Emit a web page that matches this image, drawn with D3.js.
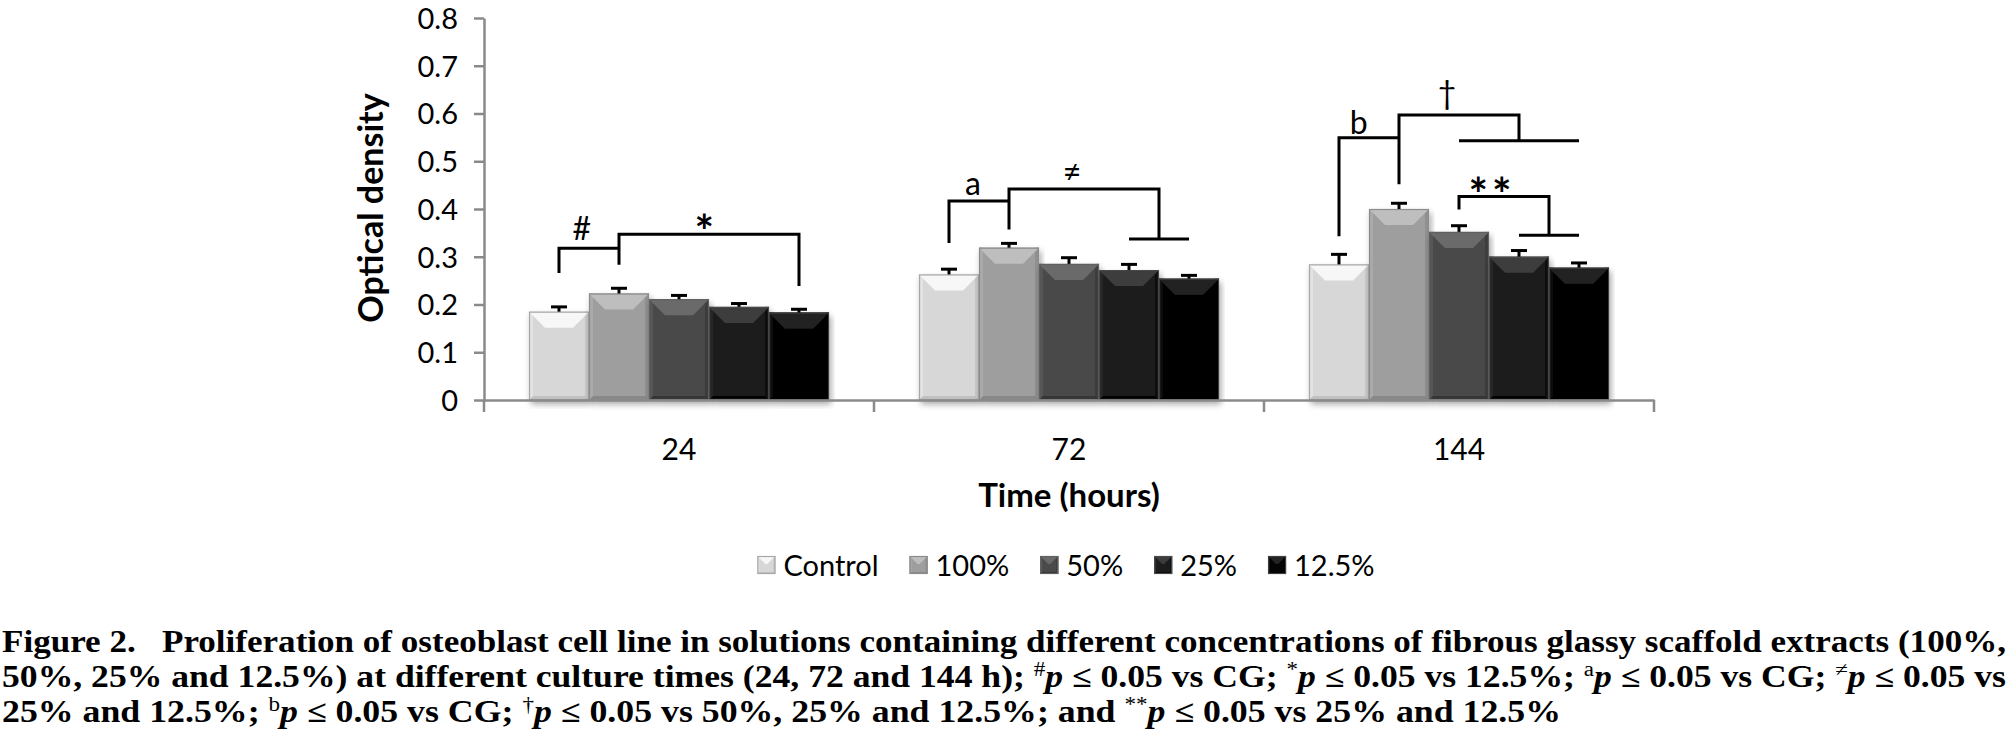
<!DOCTYPE html>
<html>
<head>
<meta charset="utf-8">
<script src="https://cdn.jsdelivr.net/npm/d3@7"></script>
<style>
  body { margin: 0; background: #fff; }
  svg { display: block; }
</style>
</head>
<body>
<svg id="chart" width="2014" height="744"></svg>
<script>
// data
const times = ["24", "72", "144"];
const concentrations = ["Control", "100%", "50%", "25%", "12.5%"];
const od24 = [0.185, 0.223, 0.211, 0.195, 0.183];
const od72 = [0.263, 0.319, 0.285, 0.272, 0.254];
const od144 = [0.284, 0.400, 0.352, 0.300, 0.277];
const err24 = [0.010, 0.011, 0.008, 0.007, 0.007];
const err72 = [0.011, 0.009, 0.013, 0.012, 0.007];
const err144 = [0.021, 0.012, 0.013, 0.013, 0.010];
const yTicks = [0, 0.1, 0.2, 0.3, 0.4, 0.5, 0.6, 0.7, 0.8];

// significance brackets: [time index, bar position, optical density]
const brackets = [
  [[0, 0, 0.266], [0, 0, 0.318], [0, 1, 0.318]],
  [[0, 1, 0.283], [0, 1, 0.347], [0, 4, 0.347], [0, 4, 0.239]],
  [[1, 0, 0.329], [1, 0, 0.417], [1, 1, 0.417]],
  [[1, 1, 0.357], [1, 1, 0.442], [1, 3.5, 0.442], [1, 3.5, 0.337]],
  [[1, 3, 0.337], [1, 4, 0.337]],
  [[2, 0, 0.343], [2, 0, 0.549], [2, 1, 0.549]],
  [[2, 1, 0.452], [2, 1, 0.597], [2, 3, 0.597], [2, 3, 0.543]],
  [[2, 2, 0.543], [2, 4, 0.543]],
  [[2, 2, 0.399], [2, 2, 0.426], [2, 3.5, 0.426], [2, 3.5, 0.345]],
  [[2, 3, 0.345], [2, 4, 0.345]]
];
const bracketLabels = [
  { text: "#", g: 0, pos: 0.38, v: 0.360 },
  { text: "*", g: 0, pos: 2.42, v: 0.374 },
  { text: "a", g: 1, pos: 0.40, v: 0.453 },
  { text: "≠", g: 1, pos: 2.05, v: 0.478 },
  { text: "b", g: 2, pos: 0.33, v: 0.582 },
  { text: "†", g: 2, pos: 1.80, v: 0.644 },
  { text: "**", g: 2, pos: 2.55, v: 0.451 }
];

const means = [od24, od72, od144];
const errs = [err24, err72, err144];
const barColors = ["#d7d7d7", "#9e9e9e", "#4a4a4a", "#1c1c1c", "#040404"];
const axisGrey = "#8a8a8a";
const font = "Lato, 'Open Sans', sans-serif";

const svg = d3.select("#chart");
const defs = svg.append("defs");
defs.append("filter").attr("id", "shadow")
    .attr("x", "-10%").attr("y", "-10%").attr("width", "120%").attr("height", "120%")
  .append("feDropShadow")
    .attr("dx", 2).attr("dy", 4).attr("stdDeviation", 3)
    .attr("flood-color", "#000").attr("flood-opacity", 0.35);

const y = d3.scaleLinear().domain([0, 0.8]).range([400, 18]);
const x0 = d3.scaleBand().domain(times).range([484, 1654]);
const x1 = d3.scaleBand().domain(concentrations).range([0, x0.bandwidth()]).paddingOuter(0.75);
const color = d3.scaleOrdinal().domain(concentrations).range(barColors);

const barX = (g, pos) => x0(times[g]) + x1(concentrations[0]) + x1.step() * pos + x1.bandwidth() / 2;

const shade = (c, k) => {
  const r = d3.rgb(c);
  return d3.rgb(Math.max(0, Math.min(255, r.r + k)), Math.max(0, Math.min(255, r.g + k)), Math.max(0, Math.min(255, r.b + k))).formatHex();
};

// bevelled bar like the Excel 3-D style
function bevel(g, x, yy, w, h, c, t) {
  const s = Math.max(2, t / 4);
  g.append("rect").attr("x", x).attr("y", yy).attr("width", w).attr("height", h).attr("fill", c);
  g.append("rect").attr("x", x).attr("y", yy).attr("width", s).attr("height", h).attr("fill", shade(c, 12));
  g.append("rect").attr("x", x + w - s).attr("y", yy).attr("width", s).attr("height", h).attr("fill", shade(c, -14));
  g.append("polygon")
    .attr("points", [[x, yy + h], [x + w, yy + h], [x + w - s, yy + h - s], [x + s, yy + h - s]].join(" "))
    .attr("fill", shade(c, -22));
  g.append("polygon")
    .attr("points", [[x, yy], [x + w, yy], [x + w - t, yy + t], [x + t, yy + t]].join(" "))
    .attr("fill", shade(c, 32));
  g.append("rect").attr("x", x + 0.5).attr("y", yy + 0.5).attr("width", w - 1).attr("height", h - 1)
    .attr("fill", "none").attr("stroke", d3.interpolateRgb(c, "#777")(0.5)).attr("stroke-width", 1.2);
}

// bars
const rows = [];
times.forEach((t, gi) => concentrations.forEach((c, ci) => {
  rows.push({ time: t, conc: c, gi: gi, ci: ci, v: means[gi][ci], e: errs[gi][ci] });
}));

const barLayer = svg.append("g");
barLayer.selectAll("g.bar").data(rows).join("g").attr("class", "bar")
  .attr("filter", "url(#shadow)")
  .each(function(d) {
    bevel(d3.select(this), x0(d.time) + x1(d.conc), y(d.v), x1.bandwidth(), y(0) - y(d.v), color(d.conc), 16);
  });

// error bars
const errLayer = svg.append("g").attr("stroke", "#000").attr("stroke-width", 3);
errLayer.selectAll("line.stem").data(rows).join("line")
  .attr("x1", d => x0(d.time) + x1(d.conc) + x1.bandwidth() / 2)
  .attr("x2", d => x0(d.time) + x1(d.conc) + x1.bandwidth() / 2)
  .attr("y1", d => y(d.v)).attr("y2", d => y(d.v + d.e));
errLayer.selectAll("line.cap").data(rows).join("line")
  .attr("x1", d => x0(d.time) + x1(d.conc) + x1.bandwidth() / 2 - 8)
  .attr("x2", d => x0(d.time) + x1(d.conc) + x1.bandwidth() / 2 + 8)
  .attr("y1", d => y(d.v + d.e)).attr("y2", d => y(d.v + d.e));

// axes
const yAxis = svg.append("g").attr("transform", "translate(484,0)")
  .call(d3.axisLeft(y).tickValues(yTicks).tickSize(10).tickSizeOuter(0).tickPadding(16)
    .tickFormat(d => d === 0 ? "0" : d3.format(".1f")(d)));
yAxis.selectAll("path, line").attr("stroke", axisGrey).attr("stroke-width", 2.5);
yAxis.selectAll("text").attr("font-family", font).attr("font-size", 29).attr("dy", "0.36em").attr("fill", "#000");

const xAxis = svg.append("g").attr("transform", "translate(0,400)")
  .call(d3.axisBottom(x0).tickSize(0).tickSizeOuter(0).tickPadding(39));
xAxis.select("path").attr("stroke", axisGrey).attr("stroke-width", 2.5);
xAxis.selectAll("text").attr("font-family", font).attr("font-size", 30).attr("fill", "#000");
xAxis.selectAll("line.sep").data(times.map(t => x0(t)).concat([x0.range()[1]]))
  .join("line").attr("class", "sep")
  .attr("x1", d => d).attr("x2", d => d).attr("y1", 0).attr("y2", 12)
  .attr("stroke", axisGrey).attr("stroke-width", 2.5);

svg.append("text")
  .attr("transform", "translate(383,208) rotate(-90)")
  .attr("text-anchor", "middle")
  .attr("font-family", font).attr("font-weight", "bold").attr("font-size", 34)
  .text("Optical density");

svg.append("text")
  .attr("x", (x0.range()[0] + x0.range()[1]) / 2).attr("y", 507)
  .attr("text-anchor", "middle")
  .attr("font-family", font).attr("font-weight", "bold").attr("font-size", 33)
  .text("Time (hours)");

// significance brackets
const line = d3.line().x(p => barX(p[0], p[1])).y(p => y(p[2]));
svg.append("g").selectAll("path").data(brackets).join("path")
  .attr("d", line).attr("fill", "none").attr("stroke", "#000").attr("stroke-width", 3);
svg.append("g").selectAll("text").data(bracketLabels).join("text")
  .attr("x", d => barX(d.g, d.pos)).attr("y", d => y(d.v))
  .attr("dy", d => d.text.includes("*") ? "0.57em" : "0.36em")
  .attr("text-anchor", "middle")
  .attr("font-family", font)
  .attr("font-weight", d => d.text.includes("*") ? "bold" : "normal")
  .attr("font-size", d => d.text.includes("*") ? 46 : 32)
  .attr("letter-spacing", d => d.text === "**" ? 4 : 0)
  .text(d => d.text);

// legend
const legend = svg.append("g");
let lx = 0;
concentrations.forEach(c => {
  const item = legend.append("g").attr("transform", `translate(${lx},0)`);
  bevel(item, 0, 556, 18, 18, color(c), 8);
  const t = item.append("text").attr("x", 26).attr("y", 576)
    .attr("font-family", font).attr("font-size", 29).text(c);
  lx += 26 + t.node().getComputedTextLength() + 31;
});
legend.attr("transform", `translate(${1066 - (lx - 31) / 2},0)`);

// caption
const cap = svg.append("g").attr("font-family", "'Liberation Serif', 'DejaVu Serif', serif")
  .attr("font-weight", "bold").attr("font-size", 31).attr("fill", "#000");

function capLine(yy, parts, len) {
  const t = cap.append("text").attr("x", 2).attr("y", yy)
    .attr("textLength", len).attr("lengthAdjust", "spacingAndGlyphs")
    .attr("xml:space", "preserve");
  parts.forEach(p => {
    const s = t.append("tspan").text(p[0]);
    if (p[1] === "sup") s.attr("baseline-shift", "super").attr("font-size", 20).attr("font-weight", "normal");
    if (p[1] === "it") s.attr("font-style", "italic");
  });
}

capLine(652, [["Figure 2.   Proliferation of osteoblast cell line in solutions containing different concentrations of fibrous glassy scaffold extracts (100%,"]], 2004);
capLine(687, [
  ["50%, 25% and 12.5%) at different culture times (24, 72 and 144 h); "], ["#", "sup"], ["p", "it"],
  [" ≤ 0.05 vs CG; "], ["*", "sup"], ["p", "it"], [" ≤ 0.05 vs 12.5%; "], ["a", "sup"], ["p", "it"],
  [" ≤ 0.05 vs CG; "], ["≠", "sup"], ["p", "it"], [" ≤ 0.05 vs"]
], 2004);
capLine(722, [
  ["25% and 12.5%; "], ["b", "sup"], ["p", "it"], [" ≤ 0.05 vs CG; "], ["†", "sup"], ["p", "it"],
  [" ≤ 0.05 vs 50%, 25% and 12.5%; and "], ["**", "sup"], ["p", "it"], [" ≤ 0.05 vs 25% and 12.5%"]
], 1559);
</script>
</body>
</html>
